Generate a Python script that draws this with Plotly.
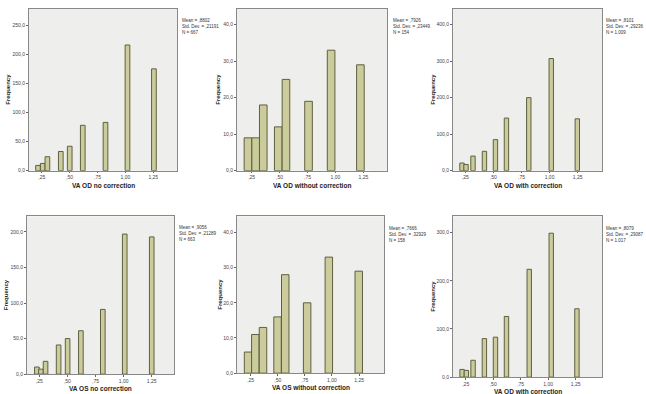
import plotly.graph_objects as go

# ---------------- data ----------------
titles = ["VA OD no correction", "VA OD without correction", "VA OD with correction",
          "VA OS no correction", "VA OS without correction", "VA OD with correction"]

p1_x = [0.217, 0.259, 0.301, 0.421, 0.501, 0.618, 0.822, 1.019, 1.256]
p1_y = [9, 12.5, 24, 33, 42, 78, 83, 216, 175]
p2_x = [0.217, 0.286, 0.354, 0.488, 0.557, 0.759, 0.961, 1.223]
p2_y = [9, 9, 18, 12, 25, 19, 33, 29]
p3_x = [0.220, 0.256, 0.318, 0.420, 0.518, 0.616, 0.815, 1.015, 1.247]
p3_y = [21, 17, 40, 53, 85, 144, 200, 307, 142]
p4_x = [0.229, 0.265, 0.306, 0.422, 0.502, 0.620, 0.815, 1.010, 1.250]
p4_y = [10, 7, 18, 41, 50, 61, 91, 197, 193]
p5_x = [0.226, 0.293, 0.364, 0.498, 0.569, 0.771, 0.971, 1.247]
p5_y = [6, 11, 13, 16, 28, 20, 33, 29]
p6_x = [0.217, 0.256, 0.317, 0.420, 0.521, 0.621, 0.828, 1.028, 1.262]
p6_y = [16, 14, 35, 80, 83, 126, 224, 299, 142]

stats = ["Mean = ,8802<br>Std. Dev. = ,21191<br>N = 667",
         "Mean = ,7926<br>Std. Dev. = ,23449<br>N = 154",
         "Mean = ,8101<br>Std. Dev. = ,29236<br>N = 1.009",
         "Mean = ,9056<br>Std. Dev. = ,21289<br>N = 663",
         "Mean = ,7666<br>Std. Dev. = ,32929<br>N = 158",
         "Mean = ,8079<br>Std. Dev. = ,29087<br>N = 1.017"]

x_tickvals = [0.25, 0.50, 0.75, 1.00, 1.25]
x_ticktext = [",25", ",50", ",75", "1,00", "1,25"]
y_ticks = [[0, 50, 100, 150, 200, 250], [0, 10, 20, 30, 40], [0, 100, 200, 300, 400],
           [0, 50, 100, 150, 200], [0, 10, 20, 30, 40], [0, 100, 200, 300]]

xs = [p1_x, p2_x, p3_x, p4_x, p5_x, p6_x]
ys = [p1_y, p2_y, p3_y, p4_y, p5_y, p6_y]

# ---------------- layout geometry (pixels) ----------------
W, H = 646, 394
boxes = [(29, 177, 9, 172), (237, 387, 9, 172), (453, 602, 9, 172),
         (27, 174, 218, 377), (237, 384, 218, 376), (453, 602, 218, 380)]
xranges = [(0.136, 1.463), (0.119, 1.461), (0.140, 1.467),
           (0.141, 1.448), (0.124, 1.480), (0.1345, 1.490)]
yranges = [(0, 278), (0, 44.3), (0, 442.7), (0, 221.9), (0, 44.6), (0, 334)]
widths = [0.042, 0.068, 0.039, 0.041, 0.069, 0.040]
ylab_x = [8, 218, 433, 6, 220, 433]
xlab_y = [186.5, 186.5, 186.5, 391, 390, 395]
stat_pos = [(180, 16), (391, 16), (604, 16), (177, 225), (387, 226), (604, 226)]

BAR_FILL = "#cbcb9c"
BAR_LINE = "#5f6040"
PLOT_BG = "#eeefed"

fig = go.Figure()
layout = dict(width=W, height=H, margin=dict(l=0, r=0, t=0, b=0),
              paper_bgcolor="white", plot_bgcolor=PLOT_BG, showlegend=False,
              font=dict(family="Liberation Sans, Arial", color="#333"))
annotations = []

for i in range(6):
    k = "" if i == 0 else str(i + 1)
    x0, x1, y0, y1 = boxes[i]
    fig.add_trace(go.Bar(x=xs[i], y=ys[i], width=widths[i],
                         marker=dict(color=BAR_FILL, line=dict(color=BAR_LINE, width=1)),
                         xaxis="x" + k, yaxis="y" + k, hoverinfo="skip"))
    layout["xaxis" + k] = dict(domain=[x0 / W, x1 / W], range=list(xranges[i]),
                               anchor="y" + k, tickvals=x_tickvals, ticktext=x_ticktext,
                               ticks="outside", ticklen=1.5, tickcolor="#666",
                               tickfont=dict(size=5, color="#444"), showgrid=False,
                               zeroline=False, showline=True, linecolor="#888",
                               linewidth=1, mirror=True, fixedrange=True)
    layout["yaxis" + k] = dict(domain=[1 - y1 / H, 1 - y0 / H], range=list(yranges[i]),
                               anchor="x" + k, tickvals=y_ticks[i],
                               ticktext=[f"{v},0" for v in y_ticks[i]],
                               ticks="outside", ticklen=2, tickcolor="#666",
                               tickfont=dict(size=5, color="#444"), showgrid=False,
                               zeroline=False, showline=True, linecolor="#888",
                               linewidth=1, mirror=True, fixedrange=True)
    annotations.append(dict(text="<b>" + titles[i] + "</b>", xref="paper", yref="paper",
                            x=(x0 + x1) / 2 / W, y=1 - xlab_y[i] / H, showarrow=False,
                            xanchor="center", yanchor="middle",
                            font=dict(size=6.5, color="#222")))
    annotations.append(dict(text="<b>Frequency</b>", xref="paper", yref="paper",
                            x=ylab_x[i] / W, y=1 - (y0 + y1) / 2 / H, showarrow=False,
                            textangle=-90, xanchor="center", yanchor="middle",
                            font=dict(size=6, color="#222")))
    sx, sy = stat_pos[i]
    annotations.append(dict(text=stats[i], xref="paper", yref="paper",
                            x=sx / W, y=1 - sy / H, showarrow=False, align="left",
                            xanchor="left", yanchor="top",
                            font=dict(size=4.5, color="#333")))

layout["annotations"] = annotations
fig.update_layout(**layout)
fig.write_html("out.html")
